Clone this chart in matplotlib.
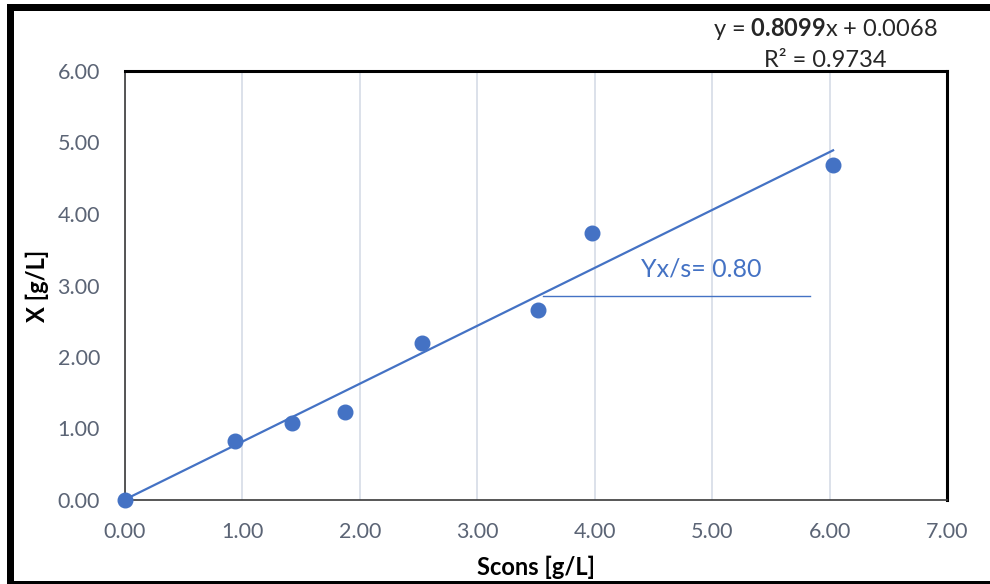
import matplotlib
matplotlib.use("Agg")
import matplotlib.pyplot as plt
from matplotlib.patches import Rectangle
import numpy as np

# Substrate consumed vs. biomass produced
s_cons = [0.00, 0.94, 1.42, 1.87, 2.53, 3.52, 3.98, 6.03]
biomass = [0.00, 0.82, 1.07, 1.23, 2.19, 2.66, 3.74, 4.68]

# Linear trendline from the regression
slope = 0.8099
intercept = 0.0068
r_squared = 0.9734
yield_label = "Yx/s= 0.80"
yield_level = 2.85
yield_span = [3.56, 5.83]

x_ticks = [0, 1, 2, 3, 4, 5, 6, 7]
y_ticks = [0, 1, 2, 3, 4, 5, 6]

plt.rcParams["font.family"] = ["Lato", "DejaVu Sans"]
plt.rcParams["mathtext.fontset"] = "custom"
plt.rcParams["mathtext.rm"] = "Lato"
plt.rcParams["mathtext.bf"] = "Lato:bold"

blue = "#4472C4"
tick_gray = "#5B6475"

fig = plt.figure(figsize=(9.9, 5.84), dpi=100)
ax = fig.add_axes([125 / 990, 1 - 500 / 584, 822 / 990, 429 / 584])

# vertical gridlines only
ax.set_xlim(0, 7)
ax.set_ylim(0, 6)
ax.set_xticks(x_ticks)
ax.set_yticks(y_ticks)
ax.set_xticklabels([f"{v:.2f}" for v in x_ticks])
ax.set_yticklabels([f"{v:.2f}" for v in y_ticks])
ax.xaxis.grid(True, color="#D9DEE8", linewidth=1.3)
ax.yaxis.grid(False)
ax.set_axisbelow(True)
ax.tick_params(axis="both", length=0, labelsize=15.5, colors=tick_gray)
ax.tick_params(axis="y", pad=18)
ax.tick_params(axis="x", pad=16)

for side in ("left", "bottom"):
    ax.spines[side].set_color("#3A3A3A")
    ax.spines[side].set_linewidth(1.2)
for side in ("top", "right"):
    ax.spines[side].set_color("black")
    ax.spines[side].set_linewidth(2.2)

# trendline
xs = np.array([0.0, max(s_cons)])
ax.plot(xs, slope * xs + intercept, color=blue, linewidth=1.6, zorder=3,
        clip_on=False)

# data points
ax.plot(s_cons, biomass, linestyle="none", marker="o", markersize=10.5,
        color=blue, markeredgecolor=blue, zorder=4, clip_on=False)

# yield annotation
ax.plot(yield_span, [yield_level, yield_level], color=blue, linewidth=1.0, zorder=3)
ax.text(4.91, yield_level + 0.22, yield_label, color=blue, fontsize=18,
        ha="center", va="bottom")

ax.set_xlabel("Scons [g/L]", fontsize=17, fontweight="bold", color="black",
              labelpad=10)
ax.set_ylabel("X [g/L]", fontsize=17, fontweight="bold", color="black",
              labelpad=6)

# regression equation
ax.text(0.8515, 1 + 42 / 429, rf"y = $\mathbf{{{slope:.4f}}}$x + {intercept:.4f}",
        transform=ax.transAxes, ha="center", va="center", fontsize=17,
        color="#262626", clip_on=False, zorder=2)
ax.text(0.8515, 1 + 10 / 429, f"R² = {r_squared:.4f}",
        transform=ax.transAxes, ha="center", va="center", fontsize=17,
        color="#262626", clip_on=False, zorder=2)

# outer frame (left, top, bottom)
fig.add_artist(Rectangle((7 / 990, 0), 7 / 990, 1 - 4 / 584,
                         transform=fig.transFigure, color="black", lw=0))
fig.add_artist(Rectangle((7 / 990, 1 - 11 / 584), 1, 7 / 584,
                         transform=fig.transFigure, color="black", lw=0))
fig.add_artist(Rectangle((7 / 990, 0), 1, 3 / 584,
                         transform=fig.transFigure, color="black", lw=0))

fig.savefig("out.png", dpi=100, facecolor="white")
